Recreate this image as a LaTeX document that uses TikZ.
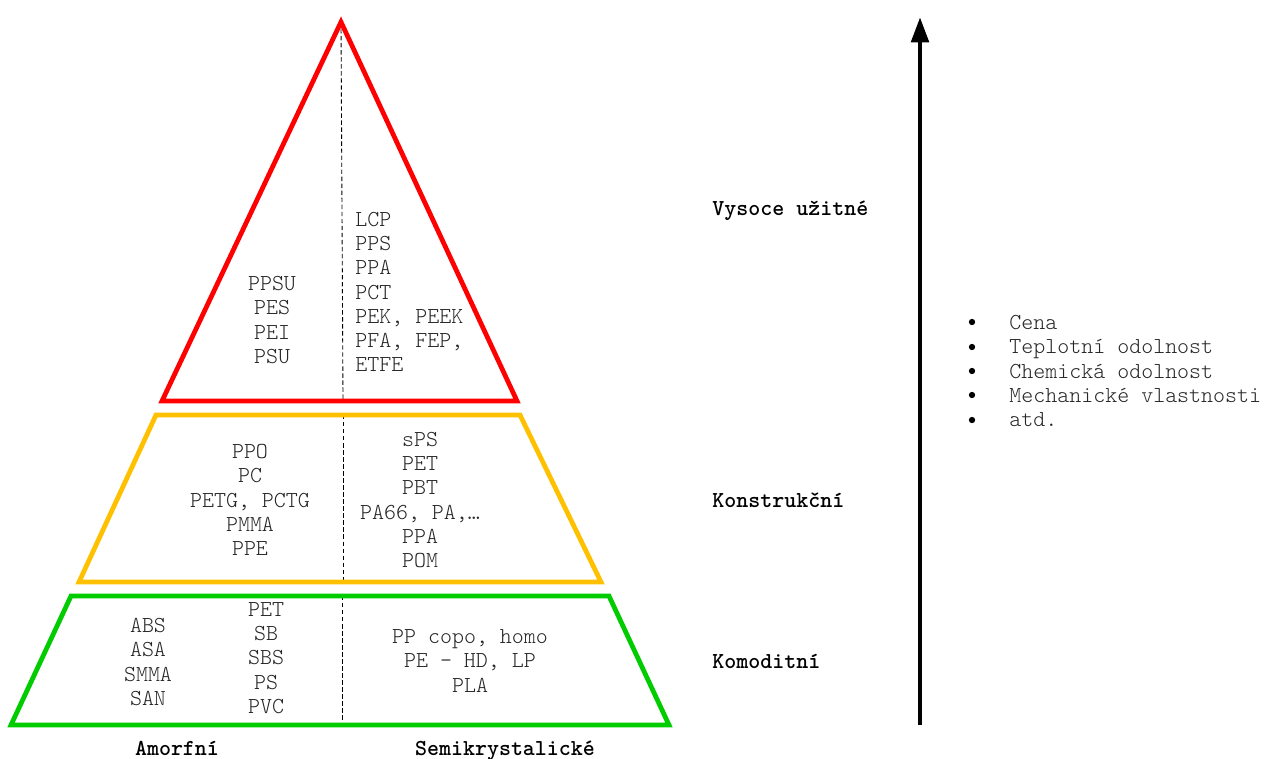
\documentclass[tikz,border=0pt]{standalone}
\usepackage{fontspec}
\setmainfont{lmmonolt10}[Extension=.otf, UprightFont=*-regular, BoldFont=*-bold]
\usetikzlibrary{arrows.meta}
\begin{document}
\begin{tikzpicture}[x=0.02cm,y=-0.02cm,
  txt/.style={font=\fontsize{13}{13.8}\selectfont, inner sep=0pt, align=center, text=black!85},
  lefttxt/.style={txt, align=left},
  lbl/.style={font=\fontsize{13}{13.8}\selectfont\bfseries, inner sep=0pt},
  tier/.style={line width=2.7pt, line join=miter},
  split/.style={line width=0.5pt, dash pattern=on 2.5pt off 1.5pt},
  axis/.style={line width=2.8pt, -{Triangle[length=14.5pt,width=9.8pt]}}
]
\useasboundingbox (0,0) rectangle (1266,758);
\definecolor{tierred}{RGB}{255,0,0}
\definecolor{tieryellow}{RGB}{255,192,0}
\definecolor{tiergreen}{RGB}{0,204,0}

% top tier: high-performance polymers
\coordinate (rA) at (341,22);
\coordinate (rL) at (162,401);
\coordinate (rR) at (517,401);
\coordinate (rB) at (343,401);
\draw[split] (rA) -- (rB);
\draw[tier, tierred] (rA) -- (rR) -- (rL) -- cycle;

% middle tier: engineering polymers
\coordinate (yTL) at (156,415);
\coordinate (yTR) at (520,415);
\coordinate (yBR) at (601,582);
\coordinate (yBL) at (79,582);
\coordinate (yT) at (343,415);
\coordinate (yB) at (343,582);
\draw[split] (yT) -- (yB);
\draw[tier, tieryellow] (yTL) -- (yTR) -- (yBR) -- (yBL) -- cycle;

% bottom tier: commodity polymers
\coordinate (gTL) at (71,596);
\coordinate (gTR) at (609,596);
\coordinate (gBR) at (669,725);
\coordinate (gBL) at (11,725);
\coordinate (gT) at (342,596);
\coordinate (gB) at (342,725);
\draw[split] (gT) -- (gB);
\draw[tier, tiergreen] (gTL) -- (gTR) -- (gBR) -- (gBL) -- cycle;

% polymer names
\node[txt] (redL) at (272,320) {PPSU\\PES\\PEI\\PSU};
\node[lefttxt, anchor=west] (redR) at (355,292) {LCP\\PPS\\PPA\\PCT\\PEK, PEEK\\PFA, FEP,\\ETFE};
\node[txt] (yelL) at (250,500) {PPO\\PC\\PETG, PCTG\\PMMA\\PPE};
\node[txt] (yelR) at (420,500) {sPS\\PET\\PBT\\PA66, PA,…\\PPA\\POM};
\node[txt] (grnL1) at (148,662) {ABS\\ASA\\SMMA\\SAN};
\node[txt] (grnL2) at (266,658) {PET\\SB\\SBS\\PS\\PVC};
\node[txt] (grnR) at (470,661) {PP copo, homo\\PE – HD, LP\\PLA};

% tier names and column names
\node[lbl, anchor=west] (lHigh) at (712,211) {Vysoce užitné};
\node[lbl, anchor=west] (lEng) at (712,500) {Konstrukční};
\node[lbl, anchor=west] (lCom) at (712,661) {Komoditní};
\node[lbl, anchor=south] (lAmo) at (177,756) {Amorfní};
\node[lbl, anchor=base] (lSemi) at (505,755) {Semikrystalické};

% rising properties axis
\coordinate (axB) at (920,725);
\coordinate (axT) at (920,17);
\draw[axis] (axB) -- (axT);

% property list
\node[lefttxt, anchor=west] (props) at (1009,371) {Cena\\Teplotní odolnost\\Chemická odolnost\\Mechanické vlastnosti\\atd.};
\foreach \i/\yy in {1/322,2/347,3/371,4/395,5/420}
  \fill (972,\yy) circle (1.8pt) coordinate (b\i);
\end{tikzpicture}
\end{document}
